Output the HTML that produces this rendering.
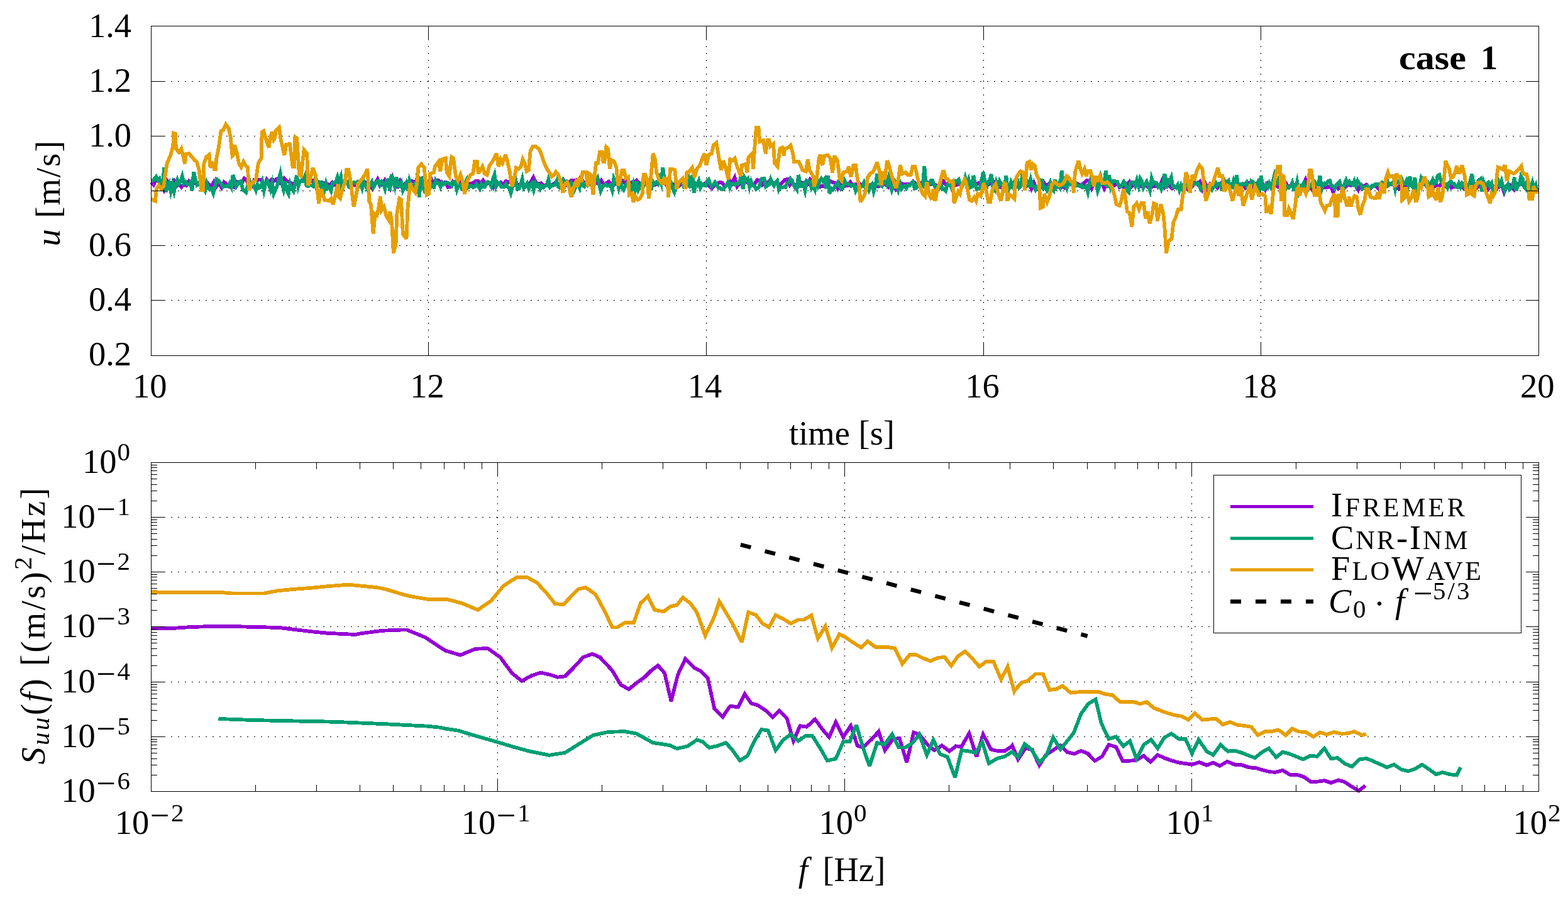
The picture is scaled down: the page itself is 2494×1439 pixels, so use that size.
<!DOCTYPE html>
<html><head><meta charset="utf-8"><title>case 1</title>
<style>html,body{margin:0;padding:0;background:#fff;overflow:hidden} svg{display:block}</style>
</head><body>
<svg width="2494" height="1439" viewBox="0 0 2494 1439">
<rect width="2494" height="1439" fill="#fff"/>
<path fill="none" stroke="#000" stroke-width="1" stroke-dasharray="2 9" stroke-dashoffset="-9.5" shape-rendering="crispEdges" d="M240.5,129.5H2447.5M240.5,216.5H2447.5M240.5,303.5H2447.5M240.5,390.5H2447.5M240.5,477.5H2447.5M681.5,41.5V565.5M1123.5,41.5V565.5M1564.5,41.5V565.5M2005.5,41.5V565.5M240.5,822.5H2447.5M240.5,909.5H2447.5M240.5,996.5H2447.5M240.5,1084.5H2447.5M240.5,1171.5H2447.5M791.5,735.5V1258.5M1343.5,735.5V1258.5M1895.5,735.5V1258.5"/>
<g fill="none" stroke-width="5.8" stroke-linejoin="miter" stroke-miterlimit="3" stroke-linecap="butt" shape-rendering="crispEdges">
<polyline stroke-miterlimit="5" stroke="#9400d3" points="240.5,289.7 244.5,293.5 248.5,282.5 252.5,289.0 256.5,291.0 260.5,300.7 264.5,285.8 268.5,291.1 272.5,293.3 276.5,287.9 280.5,295.9 284.5,293.1 288.5,297.4 292.5,292.5 296.5,295.0 300.5,288.0 304.5,292.6 308.5,288.3 312.5,293.1 316.5,292.7 320.5,287.6 324.5,293.5 328.5,289.5 332.5,293.7 336.5,295.7 340.5,288.9 344.5,296.3 348.5,291.2 352.5,298.2 356.5,289.8 360.5,292.7 364.5,297.0 368.5,296.8 372.5,297.7 376.5,289.2 380.5,291.6 384.5,291.1 388.5,283.8 392.5,287.0 396.5,295.8 400.5,296.5 404.5,286.2 408.5,286.0 412.5,285.5 416.5,286.3 420.5,296.8 424.5,285.5 428.5,290.2 432.5,285.0 436.5,287.5 440.5,284.5 444.5,291.2 448.5,292.9 452.5,284.0 456.5,288.5 460.5,288.8 464.5,293.4 468.5,290.9 472.5,286.3 476.5,290.4 480.5,285.8 484.5,282.3 488.5,287.4 492.5,288.4 496.5,287.1 500.5,293.3 504.5,290.4 508.5,289.7 512.5,289.8 516.5,292.9 520.5,292.3 524.5,294.3 528.5,290.0 532.5,294.0 536.5,292.7 540.5,290.1 544.5,294.4 548.5,289.6 552.5,290.0 556.5,291.7 560.5,293.3 564.5,294.6 568.5,293.4 572.5,289.6 576.5,293.1 580.5,290.0 584.5,289.5 588.5,294.0 592.5,300.0 596.5,292.6 600.5,285.1 604.5,295.4 608.5,292.0 612.5,286.0 616.5,291.2 620.5,298.5 624.5,283.8 628.5,297.3 632.5,297.5 636.5,288.2 640.5,296.5 644.5,291.5 648.5,288.9 652.5,287.5 656.5,288.5 660.5,288.7 664.5,284.9 668.5,291.1 672.5,284.5 676.5,288.8 680.5,295.1 684.5,281.8 688.5,290.6 692.5,289.1 696.5,286.5 700.5,289.2 704.5,290.8 708.5,289.8 712.5,297.7 716.5,296.9 720.5,288.8 724.5,292.5 728.5,287.4 732.5,288.5 736.5,293.1 740.5,293.2 744.5,292.2 748.5,291.5 752.5,291.3 756.5,287.8 760.5,288.2 764.5,292.4 768.5,287.0 772.5,293.8 776.5,290.1 780.5,290.6 784.5,297.4 788.5,286.9 792.5,292.8 796.5,289.9 800.5,294.3 804.5,288.2 808.5,290.1 812.5,288.3 816.5,292.6 820.5,292.8 824.5,294.4 828.5,293.5 832.5,293.4 836.5,293.8 840.5,295.8 844.5,289.1 848.5,282.0 852.5,290.3 856.5,292.7 860.5,291.5 864.5,295.5 868.5,293.9 872.5,292.8 876.5,294.6 880.5,292.6 884.5,289.2 888.5,293.8 892.5,294.8 896.5,287.4 900.5,294.6 904.5,291.9 908.5,286.8 912.5,287.2 916.5,286.0 920.5,291.1 924.5,283.9 928.5,290.6 932.5,288.8 936.5,288.4 940.5,289.3 944.5,293.2 948.5,289.8 952.5,293.1 956.5,287.1 960.5,294.1 964.5,291.0 968.5,288.7 972.5,292.7 976.5,294.2 980.5,290.4 984.5,293.7 988.5,285.6 992.5,289.7 996.5,284.8 1000.5,294.5 1004.5,290.3 1008.5,290.4 1012.5,286.8 1016.5,291.7 1020.5,293.8 1024.5,290.1 1028.5,286.0 1032.5,294.1 1036.5,290.3 1040.5,293.8 1044.5,293.4 1048.5,290.2 1052.5,292.1 1056.5,289.7 1060.5,294.7 1064.5,296.4 1068.5,292.6 1072.5,292.8 1076.5,298.3 1080.5,294.9 1084.5,293.0 1088.5,294.5 1092.5,288.5 1096.5,290.5 1100.5,289.1 1104.5,298.5 1108.5,292.6 1112.5,290.8 1116.5,293.8 1120.5,291.8 1124.5,292.7 1128.5,296.3 1132.5,299.4 1136.5,294.8 1140.5,292.4 1144.5,289.7 1148.5,290.5 1152.5,296.1 1156.5,294.4 1160.5,287.4 1164.5,290.9 1168.5,282.4 1172.5,296.4 1176.5,292.3 1180.5,288.8 1184.5,286.4 1188.5,290.2 1192.5,293.4 1196.5,293.1 1200.5,292.3 1204.5,286.2 1208.5,286.7 1212.5,293.8 1216.5,289.7 1220.5,290.2 1224.5,287.1 1228.5,290.5 1232.5,291.4 1236.5,290.5 1240.5,294.3 1244.5,290.4 1248.5,285.6 1252.5,285.1 1256.5,294.1 1260.5,289.0 1264.5,297.5 1268.5,292.2 1272.5,288.7 1276.5,291.9 1280.5,296.2 1284.5,293.6 1288.5,285.5 1292.5,289.8 1296.5,290.0 1300.5,289.0 1304.5,297.0 1308.5,295.5 1312.5,297.1 1316.5,290.3 1320.5,288.1 1324.5,289.8 1328.5,291.0 1332.5,299.1 1336.5,289.4 1340.5,296.5 1344.5,295.7 1348.5,294.8 1352.5,289.6 1356.5,294.6 1360.5,292.9 1364.5,292.3 1368.5,292.8 1372.5,295.6 1376.5,292.3 1380.5,296.5 1384.5,294.2 1388.5,294.3 1392.5,296.2 1396.5,296.6 1400.5,295.3 1404.5,293.2 1408.5,292.4 1412.5,296.6 1416.5,284.5 1420.5,295.8 1424.5,301.1 1428.5,294.2 1432.5,290.8 1436.5,292.9 1440.5,293.2 1444.5,293.1 1448.5,293.1 1452.5,288.7 1456.5,292.1 1460.5,294.5 1464.5,291.2 1468.5,293.1 1472.5,288.5 1476.5,291.7 1480.5,292.9 1484.5,292.1 1488.5,294.6 1492.5,300.2 1496.5,294.5 1500.5,288.3 1504.5,293.5 1508.5,291.8 1512.5,294.8 1516.5,294.6 1520.5,294.4 1524.5,291.9 1528.5,295.0 1532.5,289.6 1536.5,291.2 1540.5,294.5 1544.5,293.3 1548.5,295.6 1552.5,293.0 1556.5,290.9 1560.5,294.0 1564.5,293.6 1568.5,293.8 1572.5,293.2 1576.5,290.5 1580.5,289.6 1584.5,299.0 1588.5,291.8 1592.5,297.9 1596.5,296.5 1600.5,297.7 1604.5,294.5 1608.5,297.0 1612.5,295.8 1616.5,297.5 1620.5,295.4 1624.5,292.1 1628.5,293.8 1632.5,296.0 1636.5,291.2 1640.5,300.2 1644.5,290.8 1648.5,300.2 1652.5,301.0 1656.5,296.6 1660.5,290.5 1664.5,296.3 1668.5,292.0 1672.5,298.6 1676.5,297.7 1680.5,294.8 1684.5,297.4 1688.5,296.0 1692.5,298.3 1696.5,292.9 1700.5,289.7 1704.5,293.6 1708.5,295.8 1712.5,291.6 1716.5,293.3 1720.5,297.3 1724.5,290.5 1728.5,287.0 1732.5,287.8 1736.5,299.1 1740.5,290.4 1744.5,293.1 1748.5,289.4 1752.5,290.7 1756.5,300.0 1760.5,292.4 1764.5,290.3 1768.5,298.2 1772.5,294.5 1776.5,290.3 1780.5,297.8 1784.5,295.7 1788.5,297.8 1792.5,294.2 1796.5,289.0 1800.5,296.3 1804.5,292.1 1808.5,290.6 1812.5,295.5 1816.5,296.3 1820.5,292.8 1824.5,296.0 1828.5,292.7 1832.5,297.0 1836.5,295.5 1840.5,296.1 1844.5,296.5 1848.5,287.0 1852.5,297.7 1856.5,293.2 1860.5,296.3 1864.5,299.7 1868.5,297.2 1872.5,296.0 1876.5,301.7 1880.5,299.1 1884.5,296.8 1888.5,300.8 1892.5,292.7 1896.5,295.9 1900.5,289.9 1904.5,293.0 1908.5,289.0 1912.5,300.8 1916.5,290.9 1920.5,300.3 1924.5,292.3 1928.5,292.8 1932.5,294.4 1936.5,298.5 1940.5,294.1 1944.5,288.6 1948.5,295.7 1952.5,295.5 1956.5,296.1 1960.5,297.3 1964.5,288.8 1968.5,297.6 1972.5,294.3 1976.5,292.5 1980.5,298.3 1984.5,291.8 1988.5,290.6 1992.5,297.7 1996.5,292.1 2000.5,294.6 2004.5,296.2 2008.5,292.3 2012.5,301.2 2016.5,291.5 2020.5,295.2 2024.5,295.0 2028.5,293.6 2032.5,297.3 2036.5,295.9 2040.5,286.2 2044.5,290.0 2048.5,296.8 2052.5,295.7 2056.5,293.8 2060.5,294.7 2064.5,299.4 2068.5,300.7 2072.5,293.3 2076.5,285.5 2080.5,296.6 2084.5,297.7 2088.5,303.7 2092.5,298.5 2096.5,298.7 2100.5,298.3 2104.5,297.6 2108.5,297.8 2112.5,297.6 2116.5,295.9 2120.5,305.5 2124.5,296.4 2128.5,300.1 2132.5,295.5 2136.5,299.5 2140.5,297.0 2144.5,293.3 2148.5,295.0 2152.5,290.5 2156.5,295.0 2160.5,301.9 2164.5,293.5 2168.5,297.0 2172.5,294.2 2176.5,304.1 2180.5,298.5 2184.5,295.9 2188.5,295.7 2192.5,300.1 2196.5,294.8 2200.5,298.3 2204.5,297.0 2208.5,292.4 2212.5,292.9 2216.5,293.2 2220.5,297.1 2224.5,300.1 2228.5,291.7 2232.5,296.6 2236.5,293.7 2240.5,293.7 2244.5,291.1 2248.5,297.4 2252.5,293.2 2256.5,300.6 2260.5,287.4 2264.5,293.2 2268.5,293.3 2272.5,294.4 2276.5,293.2 2280.5,297.4 2284.5,294.1 2288.5,297.1 2292.5,292.4 2296.5,293.1 2300.5,297.0 2304.5,291.9 2308.5,298.6 2312.5,296.8 2316.5,297.4 2320.5,296.6 2324.5,296.9 2328.5,300.0 2332.5,296.9 2336.5,295.9 2340.5,290.5 2344.5,292.1 2348.5,298.5 2352.5,294.2 2356.5,299.5 2360.5,299.2 2364.5,304.8 2368.5,297.0 2372.5,297.6 2376.5,296.8 2380.5,300.5 2384.5,294.1 2388.5,293.9 2392.5,305.5 2396.5,296.6 2400.5,293.6 2404.5,297.1 2408.5,301.8 2412.5,293.3 2416.5,291.2 2420.5,293.5 2424.5,293.9 2428.5,299.0 2432.5,295.3 2436.5,295.8 2440.5,298.7 2444.5,293.0"/>
<polyline stroke-miterlimit="5" stroke="#009e73" points="240.5,286.9 243.1,287.1 245.7,284.4 248.3,281.1 250.9,286.4 253.5,284.0 256.1,293.5 258.7,293.7 261.3,266.0 263.9,305.2 266.5,294.2 269.1,290.5 271.7,304.3 274.3,293.5 276.9,304.3 279.5,292.2 282.1,285.6 284.7,291.5 287.3,288.4 289.9,280.5 292.5,291.5 295.1,289.2 297.7,293.3 300.3,293.5 302.9,290.1 305.5,303.1 308.1,273.7 310.7,284.7 313.3,294.5 315.9,293.1 318.5,287.3 321.1,293.7 323.7,297.1 326.3,302.7 328.9,291.4 331.5,298.5 334.1,301.3 336.7,300.0 339.3,307.1 341.9,297.4 344.5,285.2 347.1,286.8 349.7,290.1 352.3,293.3 354.9,297.4 357.5,296.2 360.1,295.7 362.7,296.3 365.3,291.6 367.9,297.1 370.5,278.1 373.1,288.2 375.7,296.5 378.3,292.6 380.9,288.6 383.5,288.2 386.1,301.3 388.7,303.6 391.3,305.8 393.9,295.2 396.5,286.5 399.1,295.9 401.7,292.8 404.3,297.0 406.9,302.6 409.5,293.4 412.1,298.9 414.7,297.6 417.3,289.2 419.9,302.6 422.5,290.6 425.1,287.5 427.7,294.1 430.3,301.4 432.9,291.7 435.5,307.8 438.1,302.0 440.7,295.7 443.3,285.5 445.9,276.0 448.5,290.6 451.1,301.4 453.7,289.0 456.3,303.4 458.9,308.4 461.5,292.9 464.1,300.1 466.7,303.8 469.3,291.7 471.9,279.0 474.5,296.1 477.1,287.7 479.7,288.0 482.3,288.1 484.9,281.0 487.5,295.1 490.1,296.1 492.7,294.3 495.3,294.6 497.9,296.1 500.5,287.6 503.1,297.4 505.7,288.7 508.3,289.5 510.9,299.6 513.5,294.1 516.1,301.6 518.7,291.5 521.3,299.5 523.9,297.7 526.5,303.4 529.1,291.2 531.7,290.5 534.3,289.6 536.9,281.2 539.5,288.3 542.1,281.2 544.7,302.7 547.3,291.3 549.9,291.5 552.5,289.4 555.1,297.5 557.7,298.6 560.3,292.5 562.9,289.9 565.5,291.0 568.1,289.3 570.7,295.7 573.3,291.9 575.9,299.3 578.5,289.1 581.1,294.9 583.7,299.9 586.3,293.9 588.9,294.1 591.5,289.3 594.1,297.8 596.7,293.0 599.3,288.8 601.9,287.6 604.5,293.7 607.1,288.8 609.7,291.5 612.3,299.8 614.9,286.6 617.5,286.3 620.1,303.3 622.7,277.5 625.3,287.3 627.9,296.7 630.5,281.9 633.1,295.1 635.7,295.9 638.3,290.9 640.9,303.2 643.5,298.0 646.1,291.8 648.7,303.1 651.3,287.3 653.9,295.0 656.5,298.2 659.1,293.6 661.7,298.3 664.3,275.6 666.9,313.5 669.5,280.9 672.1,295.9 674.7,302.1 677.3,297.5 679.9,297.9 682.5,290.3 685.1,291.1 687.7,297.2 690.3,298.0 692.9,286.9 695.5,290.8 698.1,290.6 700.7,296.9 703.3,290.0 705.9,293.0 708.5,290.7 711.1,290.3 713.7,292.0 716.3,292.2 718.9,295.2 721.5,288.7 724.1,289.1 726.7,301.6 729.3,293.9 731.9,293.4 734.5,300.4 737.1,300.4 739.7,290.5 742.3,285.9 744.9,298.2 747.5,296.3 750.1,295.8 752.7,297.9 755.3,296.6 757.9,292.6 760.5,295.7 763.1,300.1 765.7,293.0 768.3,297.2 770.9,297.2 773.5,289.8 776.1,289.3 778.7,291.3 781.3,296.3 783.9,284.7 786.5,277.8 789.1,296.1 791.7,290.8 794.3,291.1 796.9,296.7 799.5,297.5 802.1,297.1 804.7,292.7 807.3,297.1 809.9,298.5 812.5,306.7 815.1,297.1 817.7,291.5 820.3,287.1 822.9,300.4 825.5,299.8 828.1,294.0 830.7,284.7 833.3,299.1 835.9,296.8 838.5,291.9 841.1,299.8 843.7,293.4 846.3,290.9 848.9,301.2 851.5,291.1 854.1,295.8 856.7,293.9 859.3,300.4 861.9,295.7 864.5,298.0 867.1,295.6 869.7,295.3 872.3,285.3 874.9,297.4 877.5,295.1 880.1,294.9 882.7,294.0 885.3,288.0 887.9,296.7 890.5,298.7 893.1,297.6 895.7,287.0 898.3,290.4 900.9,288.6 903.5,291.0 906.1,297.3 908.7,290.9 911.3,293.7 913.9,301.1 916.5,295.3 919.1,292.3 921.7,298.2 924.3,279.0 926.9,294.9 929.5,296.5 932.1,291.6 934.7,295.1 937.3,293.5 939.9,286.5 942.5,293.9 945.1,286.4 947.7,286.0 950.3,282.4 952.9,292.4 955.5,303.4 958.1,296.6 960.7,295.0 963.3,293.2 965.9,295.6 968.5,295.5 971.1,294.1 973.7,302.2 976.3,283.7 978.9,289.3 981.5,287.2 984.1,298.1 986.7,286.4 989.3,298.2 991.9,301.6 994.5,295.0 997.1,291.7 999.7,288.7 1002.3,295.8 1004.9,300.5 1007.5,291.9 1010.1,302.4 1012.7,288.7 1015.3,301.5 1017.9,296.1 1020.5,291.8 1023.1,297.1 1025.7,290.1 1028.3,292.9 1030.9,292.4 1033.5,298.2 1036.1,299.3 1038.7,288.9 1041.3,292.1 1043.9,289.6 1046.5,292.7 1049.1,283.8 1051.7,291.5 1054.3,266.0 1056.9,288.3 1059.5,290.2 1062.1,297.4 1064.7,293.1 1067.3,290.7 1069.9,299.4 1072.5,305.2 1075.1,294.2 1077.7,292.1 1080.3,289.4 1082.9,288.5 1085.5,290.8 1088.1,297.3 1090.7,296.4 1093.3,295.8 1095.9,286.7 1098.5,299.0 1101.1,278.0 1103.7,306.3 1106.3,292.1 1108.9,294.6 1111.5,287.8 1114.1,298.3 1116.7,292.7 1119.3,294.7 1121.9,295.3 1124.5,288.4 1127.1,285.5 1129.7,293.0 1132.3,296.6 1134.9,293.7 1137.5,289.7 1140.1,293.3 1142.7,298.7 1145.3,298.5 1147.9,301.3 1150.5,301.0 1153.1,297.2 1155.7,293.7 1158.3,288.9 1160.9,298.2 1163.5,291.8 1166.1,292.1 1168.7,293.5 1171.3,291.5 1173.9,292.1 1176.5,289.1 1179.1,279.2 1181.7,300.9 1184.3,282.3 1186.9,286.4 1189.5,284.1 1192.1,297.1 1194.7,288.6 1197.3,295.1 1199.9,295.7 1202.5,300.8 1205.1,299.2 1207.7,296.4 1210.3,285.5 1212.9,283.6 1215.5,283.6 1218.1,296.8 1220.7,294.9 1223.3,293.5 1225.9,285.3 1228.5,291.5 1231.1,295.3 1233.7,290.8 1236.3,287.6 1238.9,301.5 1241.5,297.3 1244.1,297.9 1246.7,297.4 1249.3,297.9 1251.9,290.7 1254.5,290.2 1257.1,284.3 1259.7,287.9 1262.3,294.5 1264.9,297.3 1267.5,301.3 1270.1,277.9 1272.7,295.6 1275.3,295.6 1277.9,292.5 1280.5,302.7 1283.1,287.2 1285.7,288.4 1288.3,288.6 1290.9,299.4 1293.5,296.1 1296.1,301.6 1298.7,283.8 1301.3,294.8 1303.9,288.1 1306.5,284.2 1309.1,287.8 1311.7,284.5 1314.3,299.7 1316.9,279.5 1319.5,308.0 1322.1,299.7 1324.7,301.7 1327.3,298.0 1329.9,294.1 1332.5,290.0 1335.1,295.2 1337.7,301.1 1340.3,299.7 1342.9,286.4 1345.5,292.2 1348.1,292.2 1350.7,292.9 1353.3,295.9 1355.9,294.2 1358.5,293.8 1361.1,303.8 1363.7,298.6 1366.3,300.2 1368.9,297.2 1371.5,296.4 1374.1,290.8 1376.7,299.6 1379.3,295.5 1381.9,302.1 1384.5,294.8 1387.1,292.3 1389.7,304.4 1392.3,295.7 1394.9,279.5 1397.5,281.5 1400.1,294.6 1402.7,296.2 1405.3,288.4 1407.9,285.1 1410.5,292.4 1413.1,282.9 1415.7,294.3 1418.3,302.4 1420.9,294.7 1423.5,288.7 1426.1,293.2 1428.7,301.8 1431.3,291.5 1433.9,300.3 1436.5,297.0 1439.1,295.7 1441.7,299.3 1444.3,294.3 1446.9,294.9 1449.5,290.9 1452.1,289.3 1454.7,299.9 1457.3,299.1 1459.9,290.9 1462.5,296.1 1465.1,296.2 1467.7,296.5 1470.3,264.0 1472.9,295.8 1475.5,293.6 1478.1,293.3 1480.7,287.3 1483.3,287.3 1485.9,293.7 1488.5,300.0 1491.1,296.9 1493.7,294.0 1496.3,292.3 1498.9,300.9 1501.5,300.5 1504.1,303.3 1506.7,294.2 1509.3,291.0 1511.9,294.7 1514.5,301.1 1517.1,296.7 1519.7,288.3 1522.3,288.4 1524.9,285.6 1527.5,294.2 1530.1,296.3 1532.7,292.1 1535.3,282.4 1537.9,291.0 1540.5,285.3 1543.1,298.1 1545.7,296.8 1548.3,279.0 1550.9,292.8 1553.5,301.0 1556.1,300.3 1558.7,299.6 1561.3,286.3 1563.9,273.9 1566.5,287.6 1569.1,298.4 1571.7,289.3 1574.3,286.0 1576.9,277.1 1579.5,299.1 1582.1,302.3 1584.7,290.0 1587.3,297.7 1589.9,287.9 1592.5,292.7 1595.1,295.8 1597.7,299.0 1600.3,279.0 1602.9,304.4 1605.5,297.8 1608.1,289.4 1610.7,295.1 1613.3,290.1 1615.9,295.1 1618.5,287.9 1621.1,298.7 1623.7,296.1 1626.3,275.9 1628.9,288.0 1631.5,294.9 1634.1,289.3 1636.7,293.8 1639.3,284.9 1641.9,295.6 1644.5,296.4 1647.1,301.9 1649.7,296.9 1652.3,298.0 1654.9,286.3 1657.5,286.9 1660.1,299.8 1662.7,298.6 1665.3,302.5 1667.9,297.1 1670.5,290.7 1673.1,300.6 1675.7,303.0 1678.3,285.9 1680.9,296.7 1683.5,292.6 1686.1,297.5 1688.7,271.6 1691.3,294.7 1693.9,294.6 1696.5,299.7 1699.1,288.6 1701.7,292.7 1704.3,290.6 1706.9,293.2 1709.5,287.8 1712.1,294.8 1714.7,295.1 1717.3,296.0 1719.9,293.8 1722.5,297.8 1725.1,297.7 1727.7,296.0 1730.3,305.4 1732.9,292.9 1735.5,282.7 1738.1,287.5 1740.7,290.9 1743.3,292.2 1745.9,303.6 1748.5,295.6 1751.1,282.8 1753.7,292.0 1756.3,292.7 1758.9,271.6 1761.5,299.0 1764.1,278.2 1766.7,296.2 1769.3,287.9 1771.9,288.0 1774.5,288.4 1777.1,289.1 1779.7,295.7 1782.3,297.0 1784.9,293.5 1787.5,288.9 1790.1,292.3 1792.7,303.3 1795.3,305.9 1797.9,291.6 1800.5,290.0 1803.1,290.1 1805.7,295.7 1808.3,286.5 1810.9,295.6 1813.5,283.7 1816.1,287.7 1818.7,298.5 1821.3,293.2 1823.9,288.8 1826.5,294.4 1829.1,302.5 1831.7,284.2 1834.3,292.1 1836.9,290.2 1839.5,291.0 1842.1,297.2 1844.7,294.2 1847.3,300.8 1849.9,294.2 1852.5,276.0 1855.1,299.5 1857.7,286.5 1860.3,288.4 1862.9,282.2 1865.5,297.3 1868.1,296.4 1870.7,298.6 1873.3,294.2 1875.9,302.4 1878.5,295.0 1881.1,301.3 1883.7,292.8 1886.3,288.0 1888.9,294.3 1891.5,288.8 1894.1,291.2 1896.7,293.1 1899.3,292.3 1901.9,292.2 1904.5,290.4 1907.1,294.4 1909.7,300.6 1912.3,296.8 1914.9,297.2 1917.5,295.8 1920.1,297.4 1922.7,299.8 1925.3,295.4 1927.9,301.2 1930.5,296.5 1933.1,289.7 1935.7,294.7 1938.3,292.0 1940.9,292.5 1943.5,303.4 1946.1,283.0 1948.7,293.0 1951.3,289.4 1953.9,287.3 1956.5,297.5 1959.1,297.9 1961.7,288.8 1964.3,299.2 1966.9,278.0 1969.5,296.7 1972.1,300.2 1974.7,292.7 1977.3,293.1 1979.9,292.8 1982.5,289.9 1985.1,301.3 1987.7,298.2 1990.3,287.9 1992.9,289.5 1995.5,295.0 1998.1,298.2 2000.7,290.9 2003.3,299.4 2005.9,279.0 2008.5,300.6 2011.1,301.1 2013.7,294.0 2016.3,297.9 2018.9,291.3 2021.5,297.1 2024.1,290.3 2026.7,280.2 2029.3,292.7 2031.9,291.5 2034.5,283.3 2037.1,294.7 2039.7,291.1 2042.3,301.3 2044.9,301.2 2047.5,296.9 2050.1,298.8 2052.7,296.2 2055.3,290.6 2057.9,301.1 2060.5,299.9 2063.1,289.2 2065.7,304.1 2068.3,295.0 2070.9,296.1 2073.5,291.2 2076.1,298.4 2078.7,296.6 2081.3,299.9 2083.9,295.6 2086.5,294.2 2089.1,286.6 2091.7,290.0 2094.3,293.3 2096.9,295.9 2099.5,279.0 2102.1,301.2 2104.7,293.5 2107.3,291.2 2109.9,292.5 2112.5,288.1 2115.1,287.2 2117.7,295.5 2120.3,295.6 2122.9,299.6 2125.5,295.1 2128.1,291.3 2130.7,288.8 2133.3,298.1 2135.9,306.5 2138.5,292.3 2141.1,286.3 2143.7,292.1 2146.3,288.6 2148.9,292.3 2151.5,293.9 2154.1,288.0 2156.7,295.5 2159.3,287.5 2161.9,291.6 2164.5,293.2 2167.1,300.2 2169.7,298.1 2172.3,298.5 2174.9,295.7 2177.5,301.5 2180.1,298.2 2182.7,294.8 2185.3,295.8 2187.9,292.7 2190.5,293.0 2193.1,293.0 2195.7,298.4 2198.3,290.1 2200.9,290.6 2203.5,293.9 2206.1,287.0 2208.7,294.5 2211.3,292.3 2213.9,292.4 2216.5,289.5 2219.1,300.6 2221.7,287.4 2224.3,288.1 2226.9,291.2 2229.5,285.2 2232.1,292.0 2234.7,292.0 2237.3,286.8 2239.9,293.6 2242.5,280.8 2245.1,295.8 2247.7,298.1 2250.3,282.0 2252.9,301.4 2255.5,298.0 2258.1,296.0 2260.7,283.0 2263.3,287.1 2265.9,287.8 2268.5,294.3 2271.1,291.7 2273.7,302.0 2276.3,290.4 2278.9,285.6 2281.5,291.9 2284.1,290.3 2286.7,279.6 2289.3,278.1 2291.9,287.8 2294.5,292.1 2297.1,293.7 2299.7,293.0 2302.3,298.3 2304.9,290.4 2307.5,287.8 2310.1,291.9 2312.7,292.0 2315.3,296.8 2317.9,297.8 2320.5,291.6 2323.1,297.4 2325.7,291.5 2328.3,294.6 2330.9,300.1 2333.5,301.8 2336.1,295.1 2338.7,287.7 2341.3,277.0 2343.9,294.0 2346.5,298.8 2349.1,294.7 2351.7,286.9 2354.3,284.9 2356.9,304.7 2359.5,288.4 2362.1,294.5 2364.7,293.4 2367.3,290.5 2369.9,296.3 2372.5,291.7 2375.1,303.8 2377.7,298.2 2380.3,297.5 2382.9,287.1 2385.5,294.0 2388.1,287.5 2390.7,297.5 2393.3,303.3 2395.9,295.8 2398.5,292.8 2401.1,301.1 2403.7,298.9 2406.3,295.5 2408.9,281.9 2411.5,303.5 2414.1,294.4 2416.7,293.8 2419.3,280.0 2421.9,284.7 2424.5,297.7 2427.1,300.6 2429.7,285.8 2432.3,295.7 2434.9,299.3 2437.5,290.6 2440.1,299.9 2442.7,294.6 2445.3,306.5"/>
<polyline stroke="#e69f00" points="240.5,316.6 247.0,319.5 248.8,300.6 252.6,295.0 256.4,300.6 260.2,295.9 265.8,259.2 271.5,246.0 275.2,232.8 276.2,212.0 279.0,213.0 279.9,236.5 284.7,242.2 288.4,236.5 294.1,260.1 296.0,245.0 300.7,244.1 305.4,249.7 309.2,254.4 312.9,257.3 316.7,270.5 320.5,302.5 323.3,302.5 324.2,261.0 328.0,249.7 332.7,246.0 334.6,266.7 338.4,257.3 341.2,269.5 343.1,269.5 344.0,253.5 347.8,234.7 351.6,208.3 355.3,206.4 359.1,197.9 363.8,204.5 366.6,217.7 369.5,247.8 371.3,246.0 373.2,230.9 377.0,244.1 379.8,259.2 383.6,265.8 387.4,257.3 390.2,262.9 394.0,265.8 395.8,302.5 399.6,293.1 403.4,289.3 407.2,284.6 410.9,259.2 415.6,251.6 416.6,210.2 419.4,208.3 424.1,225.2 427.9,234.7 429.8,217.7 432.6,210.2 435.4,222.4 437.3,219.6 438.3,208.3 443.9,202.6 446.7,222.4 452.4,246.9 455.2,229.9 460.9,229.0 465.6,264.8 468.4,264.8 469.4,217.7 472.2,219.6 475.9,278.0 478.8,279.9 483.5,238.4 488.2,244.1 490.1,295.0 492.9,287.4 497.6,266.7 502.3,279.9 507.0,323.2 510.8,300.6 512.7,306.3 516.5,318.5 520.2,318.5 524.0,319.5 526.8,315.7 529.7,325.1 533.4,310.0 535.3,300.6 538.1,293.1 539.1,313.8 541.0,315.7 544.7,300.6 548.5,291.2 551.3,269.5 554.2,269.5 557.9,289.3 562.6,328.9 565.5,315.7 569.2,293.1 574.9,285.5 580.5,278.0 584.3,268.6 586.2,296.8 587.1,319.5 590.0,325.1 593.7,372.2 596.6,340.2 599.4,342.1 602.2,330.8 605.0,311.9 606.9,334.5 610.7,328.9 614.5,344.0 618.2,349.6 620.1,336.4 623.0,349.6 625.8,402.4 629.5,389.2 631.4,340.2 635.2,315.7 638.0,317.6 640.9,372.2 646.5,379.8 648.4,332.7 652.2,291.2 655.9,300.6 660.6,306.3 663.5,289.3 665.4,266.7 670.1,261.0 674.8,266.7 678.5,310.0 682.3,308.2 684.2,276.1 689.9,274.2 691.9,264.8 697.5,257.3 700.4,272.3 703.2,253.5 708.8,251.6 710.7,274.2 714.5,279.9 718.3,249.7 721.1,251.6 724.9,279.9 728.6,287.4 732.4,278.0 736.2,289.3 739.0,308.2 742.8,289.3 748.4,278.0 752.2,276.1 755.0,257.3 758.8,257.3 760.7,276.1 767.3,264.8 771.0,276.1 774.8,278.0 778.6,262.9 784.2,255.4 789.9,244.1 792.7,264.8 796.5,253.5 799.3,259.2 804.0,246.0 806.8,255.4 810.6,272.3 814.4,296.8 818.2,281.8 821.0,266.7 824.8,268.6 828.5,264.8 831.3,253.5 835.1,261.0 837.9,272.3 840.8,270.5 843.6,240.3 847.4,232.8 852.1,232.8 856.8,236.5 860.6,244.1 864.3,255.4 867.2,262.9 870.0,268.6 873.8,274.2 877.5,280.8 881.3,278.0 884.1,273.3 887.9,278.0 891.7,287.4 895.4,306.3 898.3,293.1 902.0,289.3 904.9,296.8 908.6,313.8 912.4,298.7 916.2,289.3 919.0,296.8 921.8,281.8 924.6,289.3 926.5,274.2 932.2,274.2 935.0,296.8 936.9,276.1 939.7,278.0 943.5,310.0 946.3,274.2 948.2,259.2 951.0,259.2 953.9,242.2 957.6,242.2 959.5,257.3 961.4,257.3 964.2,233.7 967.0,236.5 969.9,268.6 972.7,254.4 976.5,256.3 980.2,264.8 983.1,295.0 986.8,283.7 989.7,270.5 992.5,270.5 995.3,283.7 999.1,281.8 1001.0,310.0 1004.7,308.2 1007.6,321.3 1010.4,311.9 1014.2,317.6 1017.9,315.7 1021.7,308.2 1023.6,278.0 1026.4,278.0 1029.2,285.5 1032.1,315.7 1034.9,285.5 1038.7,244.1 1041.5,251.6 1044.3,274.2 1048.1,285.5 1052.8,291.2 1055.6,285.5 1058.5,293.1 1061.3,281.8 1063.2,313.8 1066.0,268.6 1068.8,268.6 1073.5,270.5 1076.4,300.6 1080.1,289.3 1085.8,283.7 1090.5,300.6 1092.4,274.2 1097.1,272.3 1100.9,266.7 1104.6,281.8 1108.4,268.6 1113.1,262.9 1116.9,251.6 1120.6,244.1 1123.5,262.9 1127.2,246.0 1132.0,244.1 1134.8,230.9 1139.5,227.1 1144.2,255.4 1147.0,270.5 1150.0,255.4 1153.8,264.8 1158.5,285.5 1161.3,253.5 1165.1,255.4 1168.8,251.6 1171.7,262.9 1178.3,279.9 1180.2,262.9 1185.8,261.0 1188.6,274.2 1190.5,249.7 1196.2,244.1 1198.1,268.6 1199.9,240.3 1202.8,202.6 1206.5,202.6 1208.4,225.2 1214.1,223.3 1217.8,244.1 1220.7,223.3 1223.5,223.3 1225.4,232.8 1230.1,229.0 1232.0,259.2 1236.7,264.8 1240.5,236.5 1244.2,234.7 1247.1,247.8 1248.0,236.5 1253.7,234.7 1257.4,230.9 1261.2,244.1 1263.1,257.3 1270.6,257.3 1274.4,264.8 1276.3,270.5 1281.9,272.3 1284.8,253.5 1287.6,270.5 1293.2,279.9 1295.1,296.8 1298.9,283.7 1302.7,251.6 1304.5,246.0 1308.3,262.9 1311.1,247.8 1316.8,246.9 1320.6,251.6 1324.3,274.2 1327.2,247.8 1331.9,255.4 1335.6,283.7 1338.5,287.4 1341.3,274.2 1347.9,272.3 1349.8,264.8 1353.5,281.8 1357.3,262.9 1361.1,262.9 1363.0,279.9 1366.7,296.8 1368.6,321.3 1374.3,311.9 1378.0,300.6 1379.9,281.8 1384.6,276.1 1389.4,272.3 1395.0,258.2 1398.8,272.3 1401.6,295.0 1404.4,272.3 1407.3,285.5 1411.0,255.4 1413.9,262.9 1419.5,283.7 1425.2,298.7 1428.9,285.5 1431.8,262.9 1435.5,276.1 1440.2,274.2 1444.0,278.0 1448.7,278.0 1451.5,264.8 1455.3,264.8 1461.0,289.3 1466.6,306.3 1471.3,311.9 1474.2,289.3 1477.9,308.2 1481.7,317.6 1484.5,300.6 1487.4,319.5 1491.1,300.6 1494.9,291.2 1500.5,270.5 1504.3,283.7 1508.1,285.5 1510.9,289.3 1515.6,287.4 1517.5,323.2 1520.3,315.7 1524.1,304.4 1526.9,308.2 1529.8,295.0 1534.5,285.5 1536.4,289.3 1542.0,317.6 1545.8,319.5 1549.5,313.8 1552.4,319.5 1555.2,308.2 1559.9,311.9 1564.6,291.2 1568.4,302.5 1572.2,321.3 1575.0,321.3 1578.8,300.6 1583.5,293.1 1589.1,311.9 1592.0,319.5 1597.6,291.2 1600.4,293.1 1602.3,319.5 1606.1,310.0 1609.9,311.9 1613.6,315.7 1613.8,300.6 1616.6,281.8 1623.2,272.3 1627.9,274.2 1629.8,302.5 1633.6,259.2 1637.3,257.3 1640.2,270.5 1643.0,261.0 1645.8,262.9 1648.6,278.0 1652.4,285.5 1655.2,330.8 1659.0,328.9 1660.9,308.2 1665.6,321.3 1669.4,311.9 1673.1,293.1 1676.9,289.3 1684.4,295.0 1689.2,293.1 1692.9,289.3 1696.7,279.9 1699.5,281.8 1702.3,287.4 1706.1,289.3 1708.0,306.3 1709.9,274.2 1715.5,255.4 1718.4,268.6 1721.2,276.1 1725.0,268.6 1727.8,279.9 1730.6,272.3 1734.4,272.3 1737.2,281.8 1740.0,296.8 1742.9,279.9 1745.7,289.3 1749.5,279.9 1753.2,291.2 1757.0,291.2 1760.8,289.3 1764.5,293.1 1768.3,296.8 1772.1,308.2 1775.8,325.1 1780.6,327.0 1783.4,319.5 1787.2,300.6 1790.0,313.8 1792.8,336.4 1796.6,338.3 1800.4,360.9 1803.2,328.9 1807.9,323.2 1811.7,332.7 1815.4,323.2 1819.2,323.2 1822.0,347.7 1825.8,336.4 1828.6,355.3 1832.4,342.1 1835.2,323.2 1839.0,325.1 1840.9,351.5 1843.7,338.3 1846.5,325.1 1850.3,340.2 1852.2,359.0 1855.0,402.4 1858.8,383.5 1863.5,379.8 1866.3,353.4 1870.1,345.8 1873.9,332.7 1878.6,332.7 1881.4,308.2 1883.3,306.3 1886.1,274.2 1888.9,279.9 1892.7,306.3 1896.5,278.0 1899.3,287.4 1904.0,270.5 1907.8,262.9 1912.5,268.6 1915.3,296.8 1918.1,319.5 1921.9,308.2 1924.7,293.1 1928.5,293.1 1934.2,276.1 1937.0,266.7 1939.8,279.9 1944.5,279.9 1947.4,304.4 1952.1,295.0 1954.9,296.8 1960.5,319.5 1964.3,304.4 1967.1,293.1 1970.0,311.9 1973.7,296.8 1977.5,327.0 1981.3,315.7 1985.0,302.5 1988.8,293.1 1990.7,317.6 1996.4,296.8 1999.2,302.5 2002.0,310.0 2007.7,308.2 2012.4,311.9 2014.3,338.3 2018.0,330.8 2021.8,340.2 2025.6,300.6 2028.4,281.8 2032.2,264.8 2035.9,264.8 2037.8,319.5 2040.0,279.4 2042.5,281.0 2043.4,341.7 2047.6,341.7 2050.1,331.6 2053.5,338.3 2056.8,348.4 2060.2,326.5 2062.7,301.3 2065.3,297.9 2066.9,311.4 2070.3,301.3 2073.7,301.3 2077.0,308.0 2080.4,297.9 2082.9,270.9 2085.5,270.9 2088.8,291.1 2090.5,309.7 2093.9,309.7 2097.3,296.2 2100.6,321.5 2104.0,328.2 2107.4,334.9 2110.7,326.5 2114.9,326.5 2119.2,314.7 2122.5,308.0 2124.2,343.4 2127.6,343.4 2129.3,308.0 2131.8,321.5 2135.1,297.9 2139.4,316.4 2142.7,328.2 2146.1,313.0 2148.6,328.2 2151.1,319.8 2154.5,311.4 2157.9,313.0 2160.4,331.6 2163.8,341.7 2167.1,326.5 2170.5,318.1 2173.0,301.3 2176.4,301.3 2179.8,313.0 2184.8,314.7 2188.2,314.7 2191.6,306.3 2194.1,316.4 2196.6,292.8 2199.1,294.5 2201.7,308.0 2204.2,284.4 2207.6,274.3 2210.1,281.0 2213.5,279.4 2216.8,279.4 2218.5,297.9 2221.0,276.0 2223.6,281.0 2226.9,281.0 2229.5,294.5 2230.3,318.1 2233.7,314.7 2236.2,297.9 2238.7,308.0 2241.2,319.8 2245.5,313.0 2248.8,301.3 2252.2,321.5 2255.6,311.4 2257.2,291.1 2260.6,297.9 2265.7,281.0 2269.0,289.5 2271.6,301.3 2272.4,313.0 2274.9,311.4 2277.5,294.5 2280.8,311.4 2284.2,318.1 2287.6,297.9 2290.9,321.5 2294.3,311.4 2297.7,274.3 2299.3,255.8 2301.9,262.5 2305.2,269.3 2307.8,282.7 2311.1,281.0 2314.5,274.3 2317.0,264.2 2319.6,274.3 2322.1,274.3 2325.4,262.5 2329.7,279.4 2333.0,309.7 2336.4,308.0 2339.8,294.5 2342.3,309.7 2344.8,311.4 2347.3,294.5 2349.9,291.1 2354.9,289.5 2359.1,292.8 2363.3,304.6 2367.6,316.4 2370.1,323.1 2372.6,308.0 2375.1,311.4 2378.5,304.6 2381.0,277.7 2382.7,265.9 2386.9,267.6 2390.3,269.3 2393.7,262.5 2397.0,287.8 2400.4,272.6 2403.8,274.3 2408.0,276.0 2412.2,272.6 2417.2,267.6 2419.8,264.2 2422.3,276.0 2428.2,277.7 2430.7,287.8 2432.4,316.4 2437.4,316.4 2439.1,296.2 2443.3,304.6 2447.5,304.6"/>
</g>
<g fill="none" stroke-width="5.8" stroke-linejoin="miter" stroke-miterlimit="3" stroke-linecap="butt" shape-rendering="crispEdges">
<polyline stroke="#9400d3" points="240.5,999.4 256.4,999.4 277.5,998.8 303.9,997.0 330.3,996.2 375.2,996.2 428.0,997.5 446.5,998.3 467.7,1000.9 494.1,1004.1 520.5,1006.7 546.9,1008.1 565.4,1008.9 573.3,1007.3 607.6,1002.8 639.3,1001.5 647.2,1001.5 676.3,1013.4 700.0,1029.2 708.5,1034.5 732.2,1041.6 756.0,1031.8 775.8,1031.0 795.6,1045.0 814.1,1070.1 830.0,1082.8 845.8,1074.1 860.3,1069.6 874.8,1072.8 886.7,1076.7 898.6,1075.4 911.8,1062.2 927.7,1045.0 942.2,1039.8 954.1,1045.0 973.9,1066.2 987.1,1088.6 1000.3,1096.0 1012.2,1086.0 1025.4,1076.7 1035.9,1066.2 1046.5,1058.2 1057.0,1070.1 1067.6,1115.0 1078.2,1072.8 1090.1,1047.7 1104.6,1062.2 1115.1,1067.5 1125.7,1078.0 1136.3,1126.9 1149.5,1140.1 1160.0,1124.3 1162.0,1122.8 1173.9,1124.3 1184.4,1103.4 1194.8,1118.3 1205.3,1121.3 1218.7,1130.3 1229.2,1140.7 1239.6,1130.3 1251.6,1142.2 1262.0,1178.1 1272.5,1154.2 1283.0,1155.7 1296.4,1143.7 1308.4,1160.1 1318.8,1172.1 1329.3,1148.2 1341.2,1172.1 1353.2,1154.2 1363.6,1185.5 1372.6,1188.5 1386.0,1176.0 1397.4,1163.1 1407.5,1193.0 1420.4,1175.1 1430.8,1174.2 1442.2,1212.4 1453.3,1164.6 1462.2,1167.6 1474.2,1182.6 1486.1,1193.0 1498.1,1185.5 1510.0,1194.5 1520.5,1186.4 1529.4,1187.0 1541.4,1166.1 1553.3,1203.5 1563.8,1167.6 1575.8,1191.5 1586.2,1193.9 1598.2,1193.9 1608.6,1187.0 1610.0,1185.3 1619.3,1207.4 1630.9,1190.0 1641.4,1191.6 1653.0,1216.7 1663.5,1200.5 1674.0,1193.5 1686.7,1185.3 1697.2,1195.8 1708.8,1198.6 1719.3,1194.0 1729.8,1197.7 1741.4,1209.8 1753.0,1202.8 1763.5,1184.2 1775.1,1187.7 1785.6,1209.8 1796.0,1209.8 1807.7,1208.6 1819.3,1201.6 1829.8,1211.6 1841.4,1200.5 1853.0,1205.6 1863.5,1209.3 1875.1,1212.6 1885.6,1214.0 1896.0,1215.6 1907.7,1212.1 1919.3,1216.7 1929.8,1212.6 1940.2,1217.9 1951.9,1210.9 1963.5,1215.6 1972.8,1215.6 1986.7,1220.2 1998.4,1221.4 2010.0,1224.9 2019.3,1227.2 2028.6,1227.9 2040.2,1224.9 2051.9,1231.9 2063.5,1231.9 2074.0,1235.3 2084.4,1242.8 2094.9,1242.8 2106.5,1241.2 2117.0,1244.7 2128.6,1240.5 2139.1,1243.5 2149.5,1250.5 2161.2,1257.4 2171.6,1249.3"/>
<polyline stroke="#009e73" points="347.5,1142.7 362.0,1143.5 399.0,1144.9 441.2,1145.9 480.9,1146.7 520.5,1147.5 552.2,1148.6 581.2,1149.9 612.9,1151.2 652.5,1153.3 678.9,1154.6 700.0,1156.7 708.5,1158.6 729.6,1161.8 750.7,1168.4 790.3,1179.7 816.7,1187.6 843.2,1194.8 873.5,1200.8 898.6,1196.9 919.7,1183.7 943.5,1169.1 967.3,1163.9 993.7,1163.1 1012.2,1166.5 1038.6,1181.0 1065.0,1185.0 1076.8,1190.3 1094.0,1186.3 1108.5,1176.3 1117.8,1179.7 1128.3,1189.0 1141.5,1185.8 1154.7,1181.0 1166.4,1194.5 1176.9,1209.4 1188.8,1202.0 1200.8,1176.6 1211.2,1160.1 1221.7,1161.6 1233.7,1193.0 1245.6,1176.6 1257.6,1167.6 1269.5,1178.1 1281.5,1170.0 1291.9,1170.0 1303.9,1188.5 1315.8,1209.4 1329.3,1206.5 1341.2,1179.6 1351.7,1179.0 1362.1,1152.7 1372.6,1188.5 1383.0,1218.4 1395.0,1181.1 1406.9,1184.0 1418.9,1167.6 1429.4,1188.5 1439.8,1188.5 1451.8,1181.1 1462.2,1167.6 1474.2,1200.5 1484.6,1176.6 1495.1,1199.0 1507.0,1203.5 1519.0,1236.3 1529.4,1193.0 1541.4,1194.5 1551.9,1196.9 1562.3,1179.6 1572.8,1213.9 1586.2,1205.9 1598.2,1202.9 1608.6,1196.0 1610.0,1195.8 1619.3,1204.0 1629.8,1183.0 1640.2,1191.2 1653.0,1212.1 1664.7,1200.5 1675.1,1172.6 1686.7,1191.2 1698.4,1177.2 1707.7,1165.6 1719.3,1135.3 1730.9,1119.1 1742.6,1112.1 1751.9,1150.5 1763.5,1174.9 1775.1,1171.4 1786.7,1186.5 1797.2,1178.4 1807.7,1206.3 1819.3,1184.2 1830.9,1176.0 1841.4,1190.0 1851.9,1172.6 1863.5,1166.7 1875.1,1174.9 1885.6,1174.9 1896.0,1198.1 1906.5,1176.0 1919.3,1194.7 1929.8,1200.5 1941.4,1184.2 1953.0,1194.7 1963.5,1193.5 1975.1,1197.0 1986.7,1201.6 1996.0,1205.1 2007.7,1195.8 2018.1,1190.0 2029.8,1204.0 2040.2,1195.8 2049.5,1198.1 2061.2,1202.8 2072.8,1207.4 2084.4,1201.6 2094.9,1202.8 2106.5,1190.0 2117.0,1206.3 2127.4,1205.1 2139.1,1214.4 2150.7,1219.1 2162.3,1207.4 2171.6,1206.3 2172.4,1205.8 2181.1,1208.9 2193.5,1214.5 2205.9,1220.1 2217.1,1215.7 2228.3,1223.2 2239.5,1226.3 2250.7,1222.5 2261.9,1215.7 2273.1,1223.2 2284.2,1231.2 2294.8,1228.1 2306.0,1231.2 2317.2,1232.5 2323.4,1220.1"/>
<polyline stroke="#e69f00" points="240.5,940.7 256.4,942.1 354.1,942.1 367.3,943.4 420.1,943.4 441.2,939.4 467.7,936.8 494.1,934.9 520.5,932.3 546.9,930.2 560.1,930.2 573.3,931.5 599.7,934.1 612.9,936.8 639.3,944.7 652.5,948.1 678.9,952.6 700.0,952.6 709.8,952.6 734.9,959.2 760.0,969.8 781.1,955.3 800.9,931.5 822.0,917.8 837.9,917.8 853.7,926.2 869.6,943.4 882.8,960.0 896.0,961.3 919.7,936.8 931.6,934.1 947.5,945.5 962.0,972.4 973.9,997.5 981.8,997.5 995.0,989.6 1008.2,989.6 1018.8,959.2 1030.6,948.1 1041.2,969.8 1055.7,972.4 1066.3,964.5 1076.8,961.9 1086.1,950.0 1098.0,959.2 1108.5,973.7 1121.7,1010.7 1136.3,980.3 1144.2,956.6 1160.0,983.0 1164.9,991.3 1179.9,1021.2 1190.3,973.4 1202.3,977.9 1212.7,991.3 1223.2,997.3 1233.7,977.9 1245.6,983.9 1257.6,991.3 1269.5,985.4 1278.5,985.4 1290.4,978.5 1300.9,1015.2 1312.8,995.8 1323.3,1030.2 1335.2,1008.4 1344.2,1012.9 1356.2,1021.2 1369.6,1029.6 1380.1,1019.7 1392.0,1028.7 1409.9,1028.7 1423.4,1030.8 1435.3,1055.6 1447.3,1040.6 1456.2,1040.6 1468.2,1046.6 1480.1,1051.1 1492.1,1045.7 1502.6,1045.1 1513.0,1058.6 1523.5,1043.6 1535.4,1035.6 1547.4,1048.1 1557.8,1060.1 1568.3,1052.0 1580.2,1052.0 1592.2,1080.4 1602.6,1060.1 1613.1,1098.9 1613.5,1098.1 1625.1,1085.3 1634.4,1083.0 1647.2,1071.4 1658.8,1071.4 1669.3,1097.0 1679.8,1095.8 1690.2,1090.7 1703.0,1101.6 1719.3,1100.0 1747.2,1100.0 1758.8,1104.0 1769.3,1105.1 1780.9,1115.6 1800.7,1115.6 1813.5,1119.1 1824.0,1116.3 1835.6,1126.0 1854.2,1133.0 1870.5,1137.7 1879.8,1138.8 1890.2,1144.7 1900.7,1134.2 1912.3,1144.7 1924.0,1143.5 1934.4,1142.8 1944.9,1152.1 1956.5,1148.1 1968.1,1152.8 1979.8,1154.0 1990.2,1155.8 2000.7,1169.1 2012.3,1163.3 2024.0,1162.8 2033.3,1160.5 2044.9,1169.1 2055.3,1158.6 2065.8,1163.3 2077.4,1164.4 2089.1,1171.4 2099.5,1164.4 2110.0,1167.9 2121.6,1164.0 2133.3,1166.7 2142.6,1166.3 2154.2,1163.3 2167.0,1169.1 2172.8,1166.7"/>
</g>
<line x1="1177.9" y1="866.1" x2="1729.7" y2="1011.4" stroke="#000" stroke-width="6.5" stroke-dasharray="17 23"/>
<path fill="none" stroke="#000" stroke-width="1" shape-rendering="crispEdges" d="M240.5,129.5h22M2447.5,129.5h-21M240.5,216.5h22M2447.5,216.5h-21M240.5,303.5h22M2447.5,303.5h-21M240.5,390.5h22M2447.5,390.5h-21M240.5,477.5h22M2447.5,477.5h-21M681.5,565.5v-22M681.5,41.5v21M1123.5,565.5v-22M1123.5,41.5v21M1564.5,565.5v-22M1564.5,41.5v21M2005.5,565.5v-22M2005.5,41.5v21M240.5,796.5h9M2447.5,796.5h-10M240.5,780.5h9M2447.5,780.5h-10M240.5,770.5h9M2447.5,770.5h-10M240.5,761.5h9M2447.5,761.5h-10M240.5,754.5h9M2447.5,754.5h-10M240.5,748.5h9M2447.5,748.5h-10M240.5,743.5h9M2447.5,743.5h-10M240.5,739.5h9M2447.5,739.5h-10M240.5,822.5h22M2447.5,822.5h-21M240.5,883.5h9M2447.5,883.5h-10M240.5,867.5h9M2447.5,867.5h-10M240.5,857.5h9M2447.5,857.5h-10M240.5,848.5h9M2447.5,848.5h-10M240.5,841.5h9M2447.5,841.5h-10M240.5,835.5h9M2447.5,835.5h-10M240.5,830.5h9M2447.5,830.5h-10M240.5,826.5h9M2447.5,826.5h-10M240.5,909.5h22M2447.5,909.5h-21M240.5,970.5h9M2447.5,970.5h-10M240.5,954.5h9M2447.5,954.5h-10M240.5,944.5h9M2447.5,944.5h-10M240.5,935.5h9M2447.5,935.5h-10M240.5,928.5h9M2447.5,928.5h-10M240.5,922.5h9M2447.5,922.5h-10M240.5,917.5h9M2447.5,917.5h-10M240.5,913.5h9M2447.5,913.5h-10M240.5,996.5h22M2447.5,996.5h-21M240.5,1058.5h9M2447.5,1058.5h-10M240.5,1042.5h9M2447.5,1042.5h-10M240.5,1031.5h9M2447.5,1031.5h-10M240.5,1022.5h9M2447.5,1022.5h-10M240.5,1016.5h9M2447.5,1016.5h-10M240.5,1010.5h9M2447.5,1010.5h-10M240.5,1005.5h9M2447.5,1005.5h-10M240.5,1000.5h9M2447.5,1000.5h-10M240.5,1084.5h22M2447.5,1084.5h-21M240.5,1145.5h9M2447.5,1145.5h-10M240.5,1129.5h9M2447.5,1129.5h-10M240.5,1119.5h9M2447.5,1119.5h-10M240.5,1110.5h9M2447.5,1110.5h-10M240.5,1103.5h9M2447.5,1103.5h-10M240.5,1097.5h9M2447.5,1097.5h-10M240.5,1092.5h9M2447.5,1092.5h-10M240.5,1088.5h9M2447.5,1088.5h-10M240.5,1171.5h22M2447.5,1171.5h-21M240.5,1232.5h9M2447.5,1232.5h-10M240.5,1216.5h9M2447.5,1216.5h-10M240.5,1206.5h9M2447.5,1206.5h-10M240.5,1197.5h9M2447.5,1197.5h-10M240.5,1190.5h9M2447.5,1190.5h-10M240.5,1184.5h9M2447.5,1184.5h-10M240.5,1179.5h9M2447.5,1179.5h-10M240.5,1175.5h9M2447.5,1175.5h-10M406.5,1258.5v-10.5M406.5,735.5v10M503.5,1258.5v-10.5M503.5,735.5v10M572.5,1258.5v-10.5M572.5,735.5v10M625.5,1258.5v-10.5M625.5,735.5v10M669.5,1258.5v-10.5M669.5,735.5v10M706.5,1258.5v-10.5M706.5,735.5v10M738.5,1258.5v-10.5M738.5,735.5v10M766.5,1258.5v-10.5M766.5,735.5v10M791.5,1258.5v-21M791.5,735.5v21M957.5,1258.5v-10.5M957.5,735.5v10M1054.5,1258.5v-10.5M1054.5,735.5v10M1123.5,1258.5v-10.5M1123.5,735.5v10M1177.5,1258.5v-10.5M1177.5,735.5v10M1221.5,1258.5v-10.5M1221.5,735.5v10M1257.5,1258.5v-10.5M1257.5,735.5v10M1290.5,1258.5v-10.5M1290.5,735.5v10M1318.5,1258.5v-10.5M1318.5,735.5v10M1343.5,1258.5v-21M1343.5,735.5v21M1509.5,1258.5v-10.5M1509.5,735.5v10M1606.5,1258.5v-10.5M1606.5,735.5v10M1675.5,1258.5v-10.5M1675.5,735.5v10M1729.5,1258.5v-10.5M1729.5,735.5v10M1773.5,1258.5v-10.5M1773.5,735.5v10M1809.5,1258.5v-10.5M1809.5,735.5v10M1842.5,1258.5v-10.5M1842.5,735.5v10M1870.5,1258.5v-10.5M1870.5,735.5v10M1895.5,1258.5v-21M1895.5,735.5v21M2061.5,1258.5v-10.5M2061.5,735.5v10M2158.5,1258.5v-10.5M2158.5,735.5v10M2227.5,1258.5v-10.5M2227.5,735.5v10M2281.5,1258.5v-10.5M2281.5,735.5v10M2325.5,1258.5v-10.5M2325.5,735.5v10M2361.5,1258.5v-10.5M2361.5,735.5v10M2394.5,1258.5v-10.5M2394.5,735.5v10M2422.5,1258.5v-10.5M2422.5,735.5v10"/>
<rect x="240.5" y="41.5" width="2207.0" height="524.0" fill="none" stroke="#000" stroke-width="1" shape-rendering="crispEdges"/>
<rect x="240.5" y="735.5" width="2207.0" height="523.0" fill="none" stroke="#000" stroke-width="1" shape-rendering="crispEdges"/>
<rect x="1930.5" y="755.5" width="489.0" height="251.0" fill="#fff" stroke="#000" stroke-width="1" shape-rendering="crispEdges"/>
<line x1="1957" y1="805.5" x2="2089" y2="805.5" stroke="#9400d3" stroke-width="5"/>
<line x1="1957" y1="856" x2="2089" y2="856" stroke="#009e73" stroke-width="5"/>
<line x1="1957" y1="906" x2="2089" y2="906" stroke="#e69f00" stroke-width="5"/>
<line x1="1957" y1="956.5" x2="2089" y2="956.5" stroke="#000" stroke-width="6.7" stroke-dasharray="17 23"/>
<g font-family="'Liberation Serif', 'DejaVu Serif', serif" font-size="54.5" fill="#000">
<text x="209" y="58.8" text-anchor="end">1.4</text>
<text x="209" y="145.8" text-anchor="end">1.2</text>
<text x="209" y="232.8" text-anchor="end">1.0</text>
<text x="209" y="319.8" text-anchor="end">0.8</text>
<text x="209" y="406.8" text-anchor="end">0.6</text>
<text x="209" y="493.8" text-anchor="end">0.4</text>
<text x="209" y="580.8" text-anchor="end">0.2</text>
<text x="238.2" y="631.5" text-anchor="middle">10</text>
<text x="679.6" y="631.5" text-anchor="middle">12</text>
<text x="1121.0" y="631.5" text-anchor="middle">14</text>
<text x="1562.4" y="631.5" text-anchor="middle">16</text>
<text x="2003.8" y="631.5" text-anchor="middle">18</text>
<text x="2445.2" y="631.5" text-anchor="middle">20</text>
<text x="1339" y="706.9" text-anchor="middle">time [s]</text>
<text transform="translate(95,307.6) rotate(-90)" text-anchor="middle" textLength="168" lengthAdjust="spacing"><tspan font-style="italic">u</tspan> [m/s]</text>
<text y="110.2" font-weight="bold"><tspan x="2225" textLength="107" lengthAdjust="spacingAndGlyphs">case</tspan> <tspan x="2355">1</tspan></text>
<text x="207" y="751.9" text-anchor="end">10<tspan font-size="41" dx="1" dy="-20">0</tspan></text>
<text x="207" y="838.9" text-anchor="end">10<tspan dx="1.5" dy="-10.6">−</tspan><tspan font-size="41" dx="2.5" dy="-9.4">1</tspan></text>
<text x="207" y="925.9" text-anchor="end">10<tspan dx="1.5" dy="-10.6">−</tspan><tspan font-size="41" dx="2.5" dy="-9.4">2</tspan></text>
<text x="207" y="1012.9" text-anchor="end">10<tspan dx="1.5" dy="-10.6">−</tspan><tspan font-size="41" dx="2.5" dy="-9.4">3</tspan></text>
<text x="207" y="1100.9" text-anchor="end">10<tspan dx="1.5" dy="-10.6">−</tspan><tspan font-size="41" dx="2.5" dy="-9.4">4</tspan></text>
<text x="207" y="1187.9" text-anchor="end">10<tspan dx="1.5" dy="-10.6">−</tspan><tspan font-size="41" dx="2.5" dy="-9.4">5</tspan></text>
<text x="207" y="1274.9" text-anchor="end">10<tspan dx="1.5" dy="-10.6">−</tspan><tspan font-size="41" dx="2.5" dy="-9.4">6</tspan></text>
<text x="237.5" y="1325.8" text-anchor="middle">10<tspan dx="1.5" dy="-10.6">−</tspan><tspan font-size="41" dx="2.5" dy="-9.4">2</tspan></text>
<text x="788.5" y="1325.8" text-anchor="middle">10<tspan dx="1.5" dy="-10.6">−</tspan><tspan font-size="41" dx="2.5" dy="-9.4">1</tspan></text>
<text x="1340.5" y="1325.8" text-anchor="middle">10<tspan font-size="41" dx="1" dy="-20">0</tspan></text>
<text x="1892.5" y="1325.8" text-anchor="middle">10<tspan font-size="41" dx="1" dy="-20">1</tspan></text>
<text x="2444.5" y="1325.8" text-anchor="middle">10<tspan font-size="41" dx="1" dy="-20">2</tspan></text>
<text x="1339" y="1401" text-anchor="middle"><tspan font-style="italic">f</tspan><tspan dx="10"> [Hz]</tspan></text>
<text transform="translate(71,995.5) rotate(-90)" text-anchor="middle" textLength="440" lengthAdjust="spacing"><tspan font-style="italic">S</tspan><tspan font-style="italic" font-size="41" dy="7">uu</tspan><tspan dy="-7">(</tspan><tspan font-style="italic">f</tspan>) [(m/s)<tspan font-size="41" dy="-21">2</tspan><tspan dy="21">/Hz]</tspan></text>
<text x="2117" y="820.8" textLength="213" lengthAdjust="spacing">I<tspan font-size="42.5">FREMER</tspan></text>
<text x="2117" y="872.5" textLength="217.5" lengthAdjust="spacing">C<tspan font-size="42.5">NR</tspan>-I<tspan font-size="42.5">NM</tspan></text>
<text x="2117" y="922.3" textLength="239" lengthAdjust="spacing">F<tspan font-size="42.5">LO</tspan>W<tspan font-size="42.5">AVE</tspan></text>
<text y="973.5"><tspan x="2113" font-style="italic">C</tspan><tspan x="2152" y="981.5" font-size="41">0</tspan><tspan x="2185" y="978">·</tspan><tspan x="2219" y="973.5" font-style="italic">f</tspan><tspan x="2248" y="961.5">−</tspan><tspan x="2279" y="953" font-size="41" letter-spacing="3">5/3</tspan></text>
</g>
</svg>
</body></html>
